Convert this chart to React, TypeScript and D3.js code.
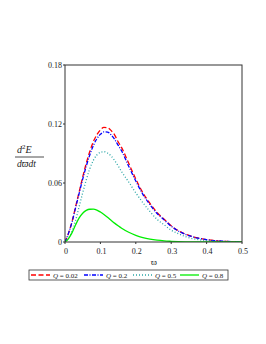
import React from "react";
import * as d3 from "d3";

const omega = [0, 0.01, 0.02, 0.03, 0.04, 0.05, 0.06, 0.07, 0.08, 0.09, 0.1, 0.11, 0.12, 0.13, 0.14, 0.15, 0.16, 0.18, 0.2, 0.22, 0.24, 0.26, 0.28, 0.3, 0.32, 0.34, 0.36, 0.38, 0.4, 0.43, 0.46, 0.5];
const q002 = [0, 0.009, 0.021, 0.036, 0.051, 0.066, 0.08, 0.092, 0.102, 0.109, 0.114, 0.1165, 0.1162, 0.1135, 0.109, 0.102, 0.096, 0.08, 0.064, 0.05, 0.0393, 0.03, 0.0232, 0.0165, 0.0115, 0.008, 0.0055, 0.0037, 0.0024, 0.0012, 0.0005, 0.0001];
const q02 = [0, 0.009, 0.0205, 0.035, 0.0495, 0.064, 0.077, 0.0885, 0.098, 0.105, 0.1095, 0.112, 0.1118, 0.109, 0.1045, 0.0985, 0.0925, 0.077, 0.062, 0.0485, 0.038, 0.029, 0.0225, 0.016, 0.0112, 0.0078, 0.0054, 0.0036, 0.0023, 0.0012, 0.0005, 0.0001];
const q05 = [0, 0.004, 0.011, 0.022, 0.036, 0.05, 0.063, 0.0745, 0.083, 0.0885, 0.0912, 0.0918, 0.0905, 0.0875, 0.083, 0.0775, 0.0715, 0.061, 0.05, 0.04, 0.031, 0.023, 0.0175, 0.012, 0.0085, 0.0055, 0.0035, 0.0022, 0.0013, 0.0006, 0.0002, 0];
const q08 = [0, 0.0035, 0.0095, 0.0175, 0.0245, 0.0293, 0.0321, 0.0333, 0.0334, 0.0325, 0.0305, 0.028, 0.0252, 0.0222, 0.0192, 0.0165, 0.014, 0.0099, 0.0068, 0.0045, 0.0029, 0.0018, 0.0011, 0.0007, 0.0004, 0.0002, 0.0001, 0.0001, 0, 0, 0, 0];

const xTicks = [0, 0.1, 0.2, 0.3, 0.4, 0.5];
const yTicks = [0, 0.06, 0.12, 0.18];
const legendLabels = ["0.02", "0.2", "0.5", "0.8"];

const seriesList = [
  { vals: q002, color: "#ff0000", dash: "5,2.5" },
  { vals: q02, color: "#0000ff", dash: "4,1.5,1,1.5" },
  { vals: q05, color: "#2aa6a6", dash: "1,2" },
  { vals: q08, color: "#00ee00", dash: "" },
];

export default function App() {
  const W = 266, H = 344;
  const x = d3.scaleLinear().domain([0, 0.5]).range([65, 242]);
  const y = d3.scaleLinear().domain([0, 0.18]).range([242, 65]);
  const font = "'Liberation Serif', 'Times New Roman', serif";
  const line = (vals: number[]) =>
    d3.line<number>().x((_, i) => x(omega[i])).y((d) => y(d)).curve(d3.curveMonotoneX)(vals) || "";

  const legendX = [31, 84, 133, 180];
  return (
    <svg width={W} height={H} style={{ position: "absolute", left: 0, top: 0, background: "#fff" }} fontFamily={font}>
      <rect x={0} y={0} width={W} height={H} fill="#fff" />
      <defs>
        <clipPath id="plot">
          <rect x={65} y={65} width={177} height={177} />
        </clipPath>
      </defs>
      <g clipPath="url(#plot)">
        {seriesList.map((s, i) => (
          <path key={i} d={line(s.vals)} fill="none" stroke={s.color} strokeWidth={1.3} strokeDasharray={s.dash || undefined} />
        ))}
      </g>
      <rect x={65} y={65} width={177} height={177} fill="none" stroke="#333" strokeWidth={1} />
      {yTicks.map((t) => (
        <g key={t}>
          <line x1={63} x2={65} y1={y(t)} y2={y(t)} stroke="#333" />
          <text x={62} y={y(t)} dy="0.33em" fontSize={8} textAnchor="end" fill="#222">{t === 0 ? "0" : String(t)}</text>
        </g>
      ))}
      {xTicks.map((t) => (
        <g key={t}>
          <line x1={x(t)} x2={x(t)} y1={242} y2={244} stroke="#333" />
          <text x={x(t) + 1} y={254} fontSize={8} textAnchor="middle" fill="#222">{t === 0 ? "0" : String(t)}</text>
        </g>
      ))}
      <text x={154} y={265} fontSize={9} textAnchor="middle" fill="#222">ϖ</text>
      <g fill="#222" fontStyle="italic">
        <text x={17} y={153} fontSize={10}>d<tspan fontSize={7} dy={-4} fontStyle="normal">2</tspan><tspan dy={4}>E</tspan></text>
        <line x1={15} x2={44} y1={157} y2={157} stroke="#222" strokeWidth={0.8} />
        <text x={17} y={167} fontSize={9.5}>dϖdt</text>
      </g>
      <rect x={29} y={270} width={199} height={10} fill="none" stroke="#333" strokeWidth={0.8} />
      {seriesList.map((s, i) => (
        <g key={i}>
          <line x1={legendX[i]} x2={legendX[i] + 19} y1={275} y2={275} stroke={s.color} strokeWidth={1.3} strokeDasharray={s.dash || undefined} />
          <text x={legendX[i] + 22} y={278} fontSize={7} fill="#222">
            <tspan fontStyle="italic">Q</tspan> = {legendLabels[i]}
          </text>
        </g>
      ))}
    </svg>
  );
}
